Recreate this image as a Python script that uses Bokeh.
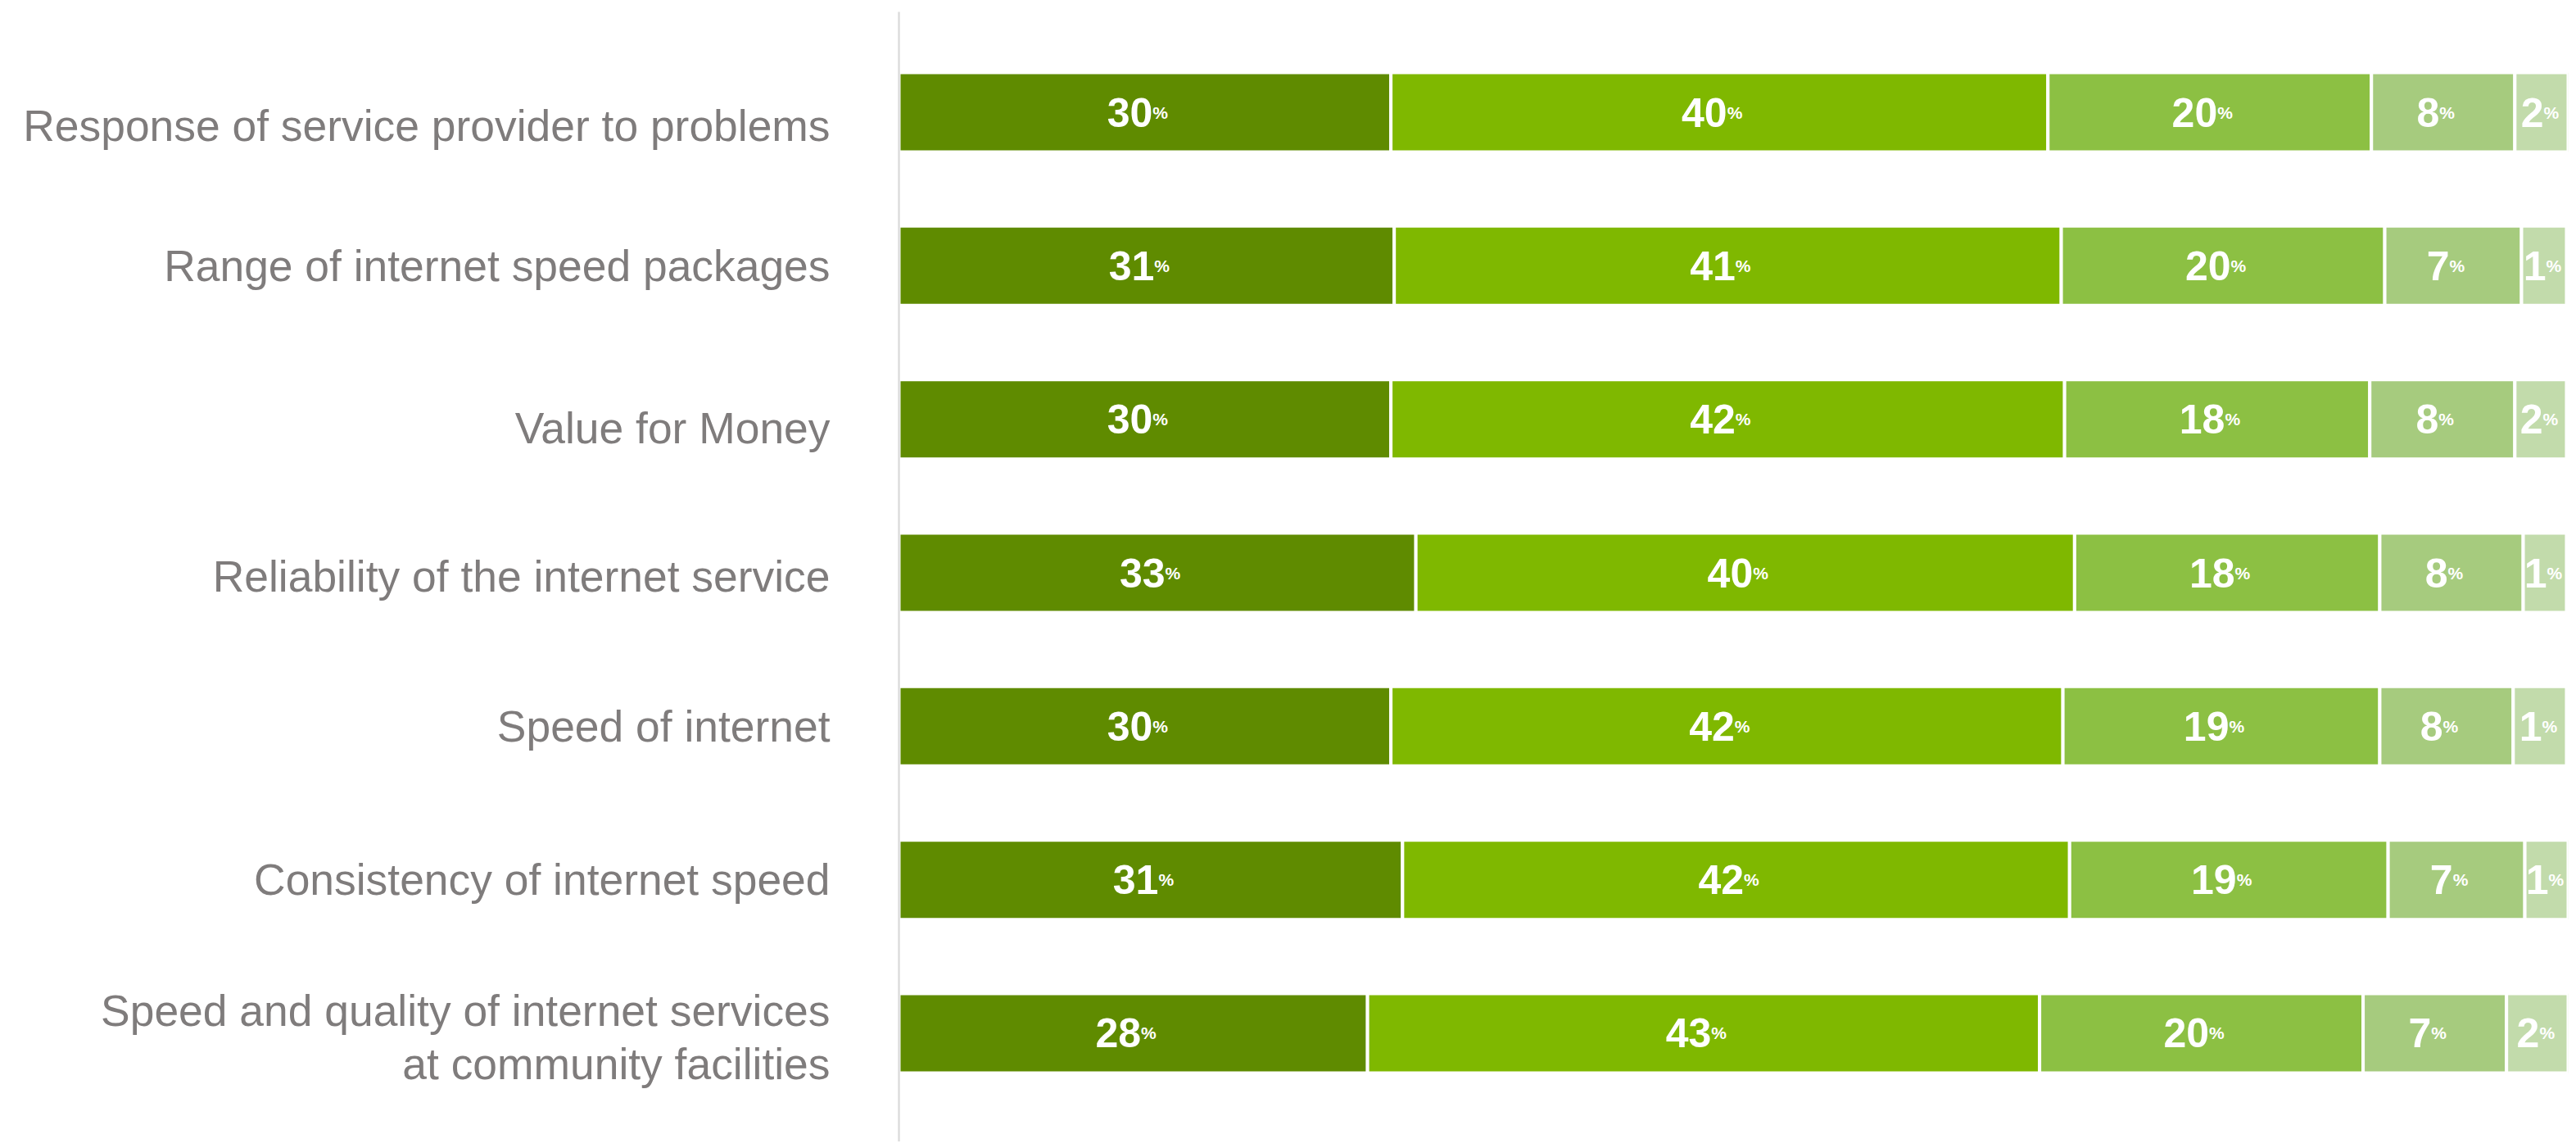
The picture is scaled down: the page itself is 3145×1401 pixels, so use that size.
from bokeh.plotting import figure
from bokeh.models import ColumnDataSource, FixedTicker, Range1d
from bokeh.core.properties import value
from bokeh.embed import file_html
from bokeh.resources import INLINE

# ---------------- data ----------------
categories = [
    "Response of service provider to problems",
    "Range of internet speed packages",
    "Value for Money",
    "Reliability of the internet service",
    "Speed of internet",
    "Consistency of internet speed",
    "Speed and quality of internet services\nat community facilities",
]
# printed percentages (segment labels)
label1 = [30, 31, 30, 33, 30, 31, 28]
label2 = [40, 41, 42, 40, 42, 42, 43]
label3 = [20, 20, 18, 18, 19, 19, 20]
label4 = [8, 7, 8, 8, 8, 7, 7]
label5 = [2, 1, 2, 1, 1, 1, 2]
# bar lengths as drawn in the picture (share of the full bar, %)
share1 = [29.5, 29.7, 29.5, 31.0, 29.5, 30.2, 28.1]
share2 = [39.4, 40.0, 40.4, 39.5, 40.3, 40.0, 40.3]
share3 = [19.4, 19.4, 18.3, 18.3, 19.0, 19.1, 19.4]
share4 = [8.6, 8.2, 8.7, 8.6, 8.0, 8.2, 8.6]
share5 = [3.2, 2.7, 3.1, 2.6, 3.2, 2.6, 3.7]
series_names = ["s1", "s2", "s3", "s4", "s5"]
colors = ["#5f8b00", "#7fb800", "#8cc043", "#a6cb7e", "#c2dbab"]

# ---------------- layout ----------------
n = len(categories)
ypos = [n - i for i in range(n)]  # top row first

W, H = 3137, 1393
FRAME_TOP = 14
FRAME_H = H - FRAME_TOP
ROW_PX = 187.33
y_end = 7.654
y_start = y_end - FRAME_H / ROW_PX

p = figure(width=W, height=H, output_backend="svg", toolbar_location=None,
           x_range=Range1d(0, 100.1), y_range=Range1d(y_start, y_end),
           x_axis_location=None, min_border_left=1097, min_border_right=2,
           min_border_top=FRAME_TOP, min_border_bottom=0)
p.outline_line_color = None
p.xgrid.visible = False
p.ygrid.visible = False
p.background_fill_color = "white"
p.border_fill_color = "white"

src = ColumnDataSource(dict(y=ypos, s1=share1, s2=share2, s3=share3, s4=share4, s5=share5))
p.hbar_stack(series_names, y="y", height=97 / ROW_PX, fill_color=colors,
             line_color="white", line_width=4, source=src)

# value labels
xs, ys, nums, offs = [], [], [], []
shares = [share1, share2, share3, share4, share5]
labels = [label1, label2, label3, label4, label5]
NUM_SIZE, PCT_SIZE = 50, 21
for r in range(n):
    left = 0
    for s, l in zip(shares, labels):
        w = s[r]
        v = l[r]
        xs.append(left + w / 2)
        ys.append(ypos[r])
        nums.append(str(v))
        wn = len(str(v)) * 0.556 * NUM_SIZE
        wp = 0.889 * PCT_SIZE
        shift = -9 if w > 5 else -2
        offs.append((wn - wp) / 2 + shift)
        left += w
lab = ColumnDataSource(dict(x=xs, y=ys, num=nums, pct=["%"] * len(xs), off=offs))
p.text(x="x", y="y", text="num", source=lab, x_offset="off", y_offset=0,
       text_align="right", text_baseline="alphabetic", text_color="white",
       text_font=value("Liberation Sans"), text_font_style="bold",
       text_font_size=f"{NUM_SIZE}px")
p.text(x="x", y="y", text="pct", source=lab, x_offset="off", y_offset=0,
       text_align="left", text_baseline="alphabetic", text_color="white",
       text_font=value("Liberation Sans"), text_font_style="bold",
       text_font_size=f"{PCT_SIZE}px")

# category axis (labels sit slightly lower than bar centres in some rows)
label_nudge_px = [16, 0, 11, 4, 0, 0, 5]
tick_pos = [round(ypos[i] - label_nudge_px[i] / ROW_PX, 4) for i in range(n)]
ax = p.yaxis[0]
ax.ticker = FixedTicker(ticks=tick_pos)
ax.major_label_overrides = {tick_pos[i]: categories[i] for i in range(n)}
ax.major_tick_line_color = None
ax.minor_tick_line_color = None
ax.major_tick_out = 0
ax.major_tick_in = 0
ax.axis_line_color = "#dcdcdc"
ax.axis_line_width = 2.5
ax.major_label_standoff = 84
ax.major_label_text_font = "Liberation Sans"
ax.major_label_text_font_size = "53.4px"
ax.major_label_text_color = "#7f7c7c"
ax.major_label_text_line_height = 1.11

open("out.html", "w").write(file_html(p, INLINE))
